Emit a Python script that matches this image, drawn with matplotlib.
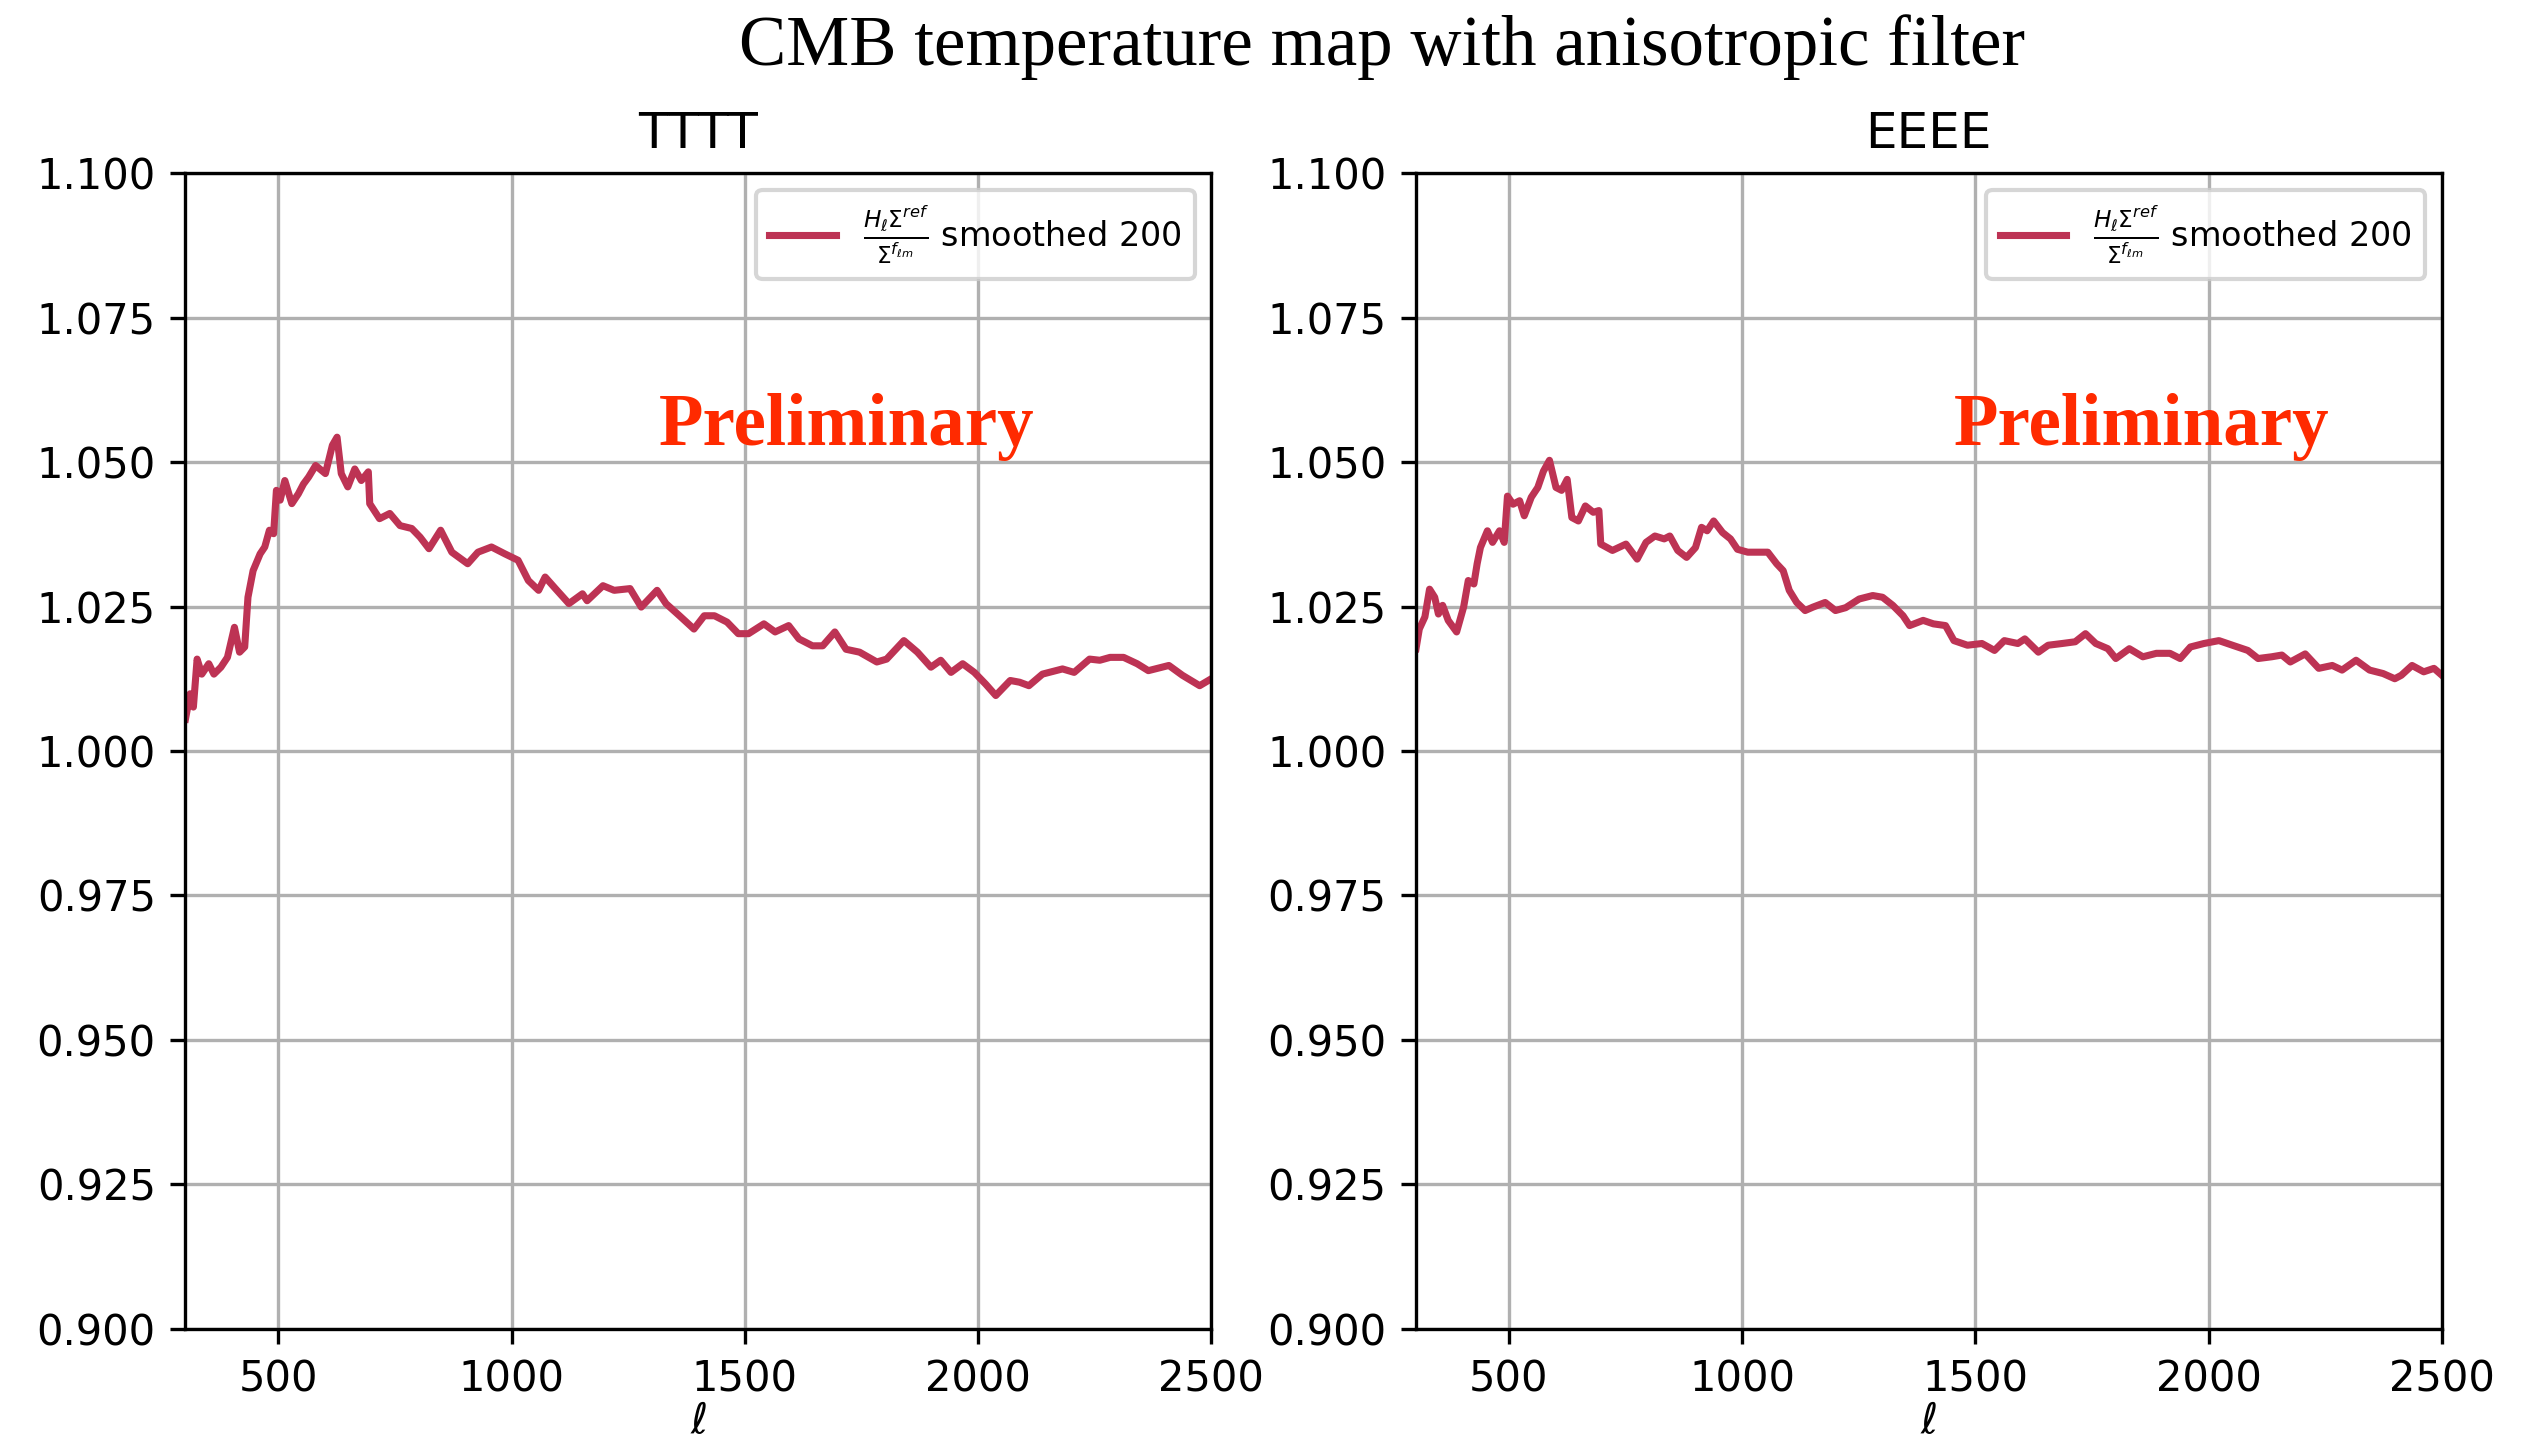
import numpy as np
import matplotlib
matplotlib.use("Agg")
import matplotlib.pyplot as plt

plt.rcParams.update({"figure.dpi": 300, "savefig.dpi": 300, "font.size": 10})

LINE_COLOR = "#bd3354"

# TTTT ratio (smoothed)
tt_ell = [301, 311, 318, 326, 336, 351, 362, 377, 391, 406, 417, 428, 435, 446, 461, 471,
          481, 490, 496, 504, 514, 529, 543, 554, 565, 580, 601, 616, 626, 635, 649, 664,
          678, 693, 696, 717, 739, 761, 786, 804, 823, 848, 872, 906, 928, 957, 986, 1014,
          1036, 1058, 1072, 1094, 1123, 1152, 1162, 1196, 1220, 1254, 1278, 1312, 1331, 1360,
          1391, 1413, 1435, 1462, 1486, 1508, 1541, 1565, 1594, 1616, 1645, 1667, 1693, 1717,
          1746, 1783, 1804, 1841, 1870, 1899, 1920, 1942, 1967, 1992, 2016, 2038, 2069, 2089,
          2109, 2138, 2181, 2206, 2239, 2261, 2283, 2312, 2341, 2365, 2409, 2438, 2475, 2500]
tt_val = [1.0055, 1.0099, 1.0076, 1.0159, 1.0133, 1.0151, 1.0133, 1.0145, 1.0162, 1.0214,
          1.0171, 1.0180, 1.0266, 1.0312, 1.0341, 1.0353, 1.0382, 1.0376, 1.0451, 1.0434,
          1.0468, 1.0428, 1.0445, 1.0462, 1.0474, 1.0494, 1.0480, 1.0529, 1.0543, 1.0480,
          1.0457, 1.0488, 1.0468, 1.0483, 1.0428, 1.0402, 1.0411, 1.0390, 1.0385, 1.0370,
          1.0350, 1.0382, 1.0344, 1.0324, 1.0344, 1.0353, 1.0341, 1.0330, 1.0295, 1.0278,
          1.0301, 1.0281, 1.0255, 1.0272, 1.0260, 1.0286, 1.0278, 1.0281, 1.0249, 1.0278,
          1.0255, 1.0234, 1.0211, 1.0234, 1.0234, 1.0223, 1.0203, 1.0203, 1.0220, 1.0206,
          1.0217, 1.0194, 1.0182, 1.0182, 1.0206, 1.0176, 1.0171, 1.0154, 1.0159, 1.0191,
          1.0171, 1.0145, 1.0157, 1.0136, 1.0151, 1.0136, 1.0116, 1.0096, 1.0122, 1.0119,
          1.0113, 1.0133, 1.0142, 1.0136, 1.0159, 1.0157, 1.0162, 1.0162, 1.0151, 1.0139,
          1.0148, 1.0131, 1.0113, 1.0125]

# EEEE ratio (smoothed)
ee_ell = [301, 308, 320, 330, 341, 349, 358, 370, 388, 403, 413, 425, 432, 439, 454, 465,
          480, 490, 497, 509, 523, 533, 548, 562, 574, 587, 601, 613, 625, 635, 649, 664,
          681, 693, 697, 722, 751, 775, 794, 813, 833, 845, 862, 881, 900, 913, 925, 939,
          958, 975, 990, 1012, 1033, 1055, 1074, 1088, 1101, 1117, 1135, 1152, 1178, 1200,
          1222, 1251, 1280, 1301, 1323, 1345, 1359, 1388, 1410, 1436, 1454, 1483, 1514, 1541,
          1562, 1591, 1606, 1635, 1656, 1686, 1714, 1736, 1758, 1784, 1801, 1830, 1859, 1888,
          1917, 1939, 1961, 1990, 2022, 2051, 2084, 2106, 2135, 2157, 2175, 2207, 2236, 2265,
          2286, 2316, 2345, 2374, 2399, 2413, 2436, 2461, 2483, 2500]
ee_val = [1.0177, 1.0211, 1.0232, 1.0280, 1.0266, 1.0237, 1.0252, 1.0226, 1.0206, 1.0249,
          1.0295, 1.0289, 1.0324, 1.0352, 1.0381, 1.0361, 1.0381, 1.0361, 1.0441, 1.0427,
          1.0433, 1.0407, 1.0439, 1.0456, 1.0484, 1.0503, 1.0456, 1.0451, 1.0470, 1.0404,
          1.0398, 1.0424, 1.0413, 1.0416, 1.0358, 1.0347, 1.0358, 1.0332, 1.0361, 1.0372,
          1.0367, 1.0372, 1.0347, 1.0335, 1.0352, 1.0387, 1.0381, 1.0398, 1.0378, 1.0367,
          1.0349, 1.0344, 1.0344, 1.0344, 1.0324, 1.0312, 1.0278, 1.0257, 1.0243, 1.0249,
          1.0257, 1.0243, 1.0248, 1.0263, 1.0269, 1.0266, 1.0252, 1.0234, 1.0217, 1.0226,
          1.0220, 1.0217, 1.0191, 1.0183, 1.0186, 1.0174, 1.0191, 1.0186, 1.0194, 1.0171,
          1.0183, 1.0186, 1.0189, 1.0203, 1.0186, 1.0177, 1.0160, 1.0177, 1.0163, 1.0169,
          1.0169, 1.0160, 1.0180, 1.0186, 1.0191, 1.0183, 1.0174, 1.0160, 1.0163, 1.0166,
          1.0154, 1.0168, 1.0143, 1.0148, 1.0140, 1.0157, 1.0140, 1.0134, 1.0125, 1.0131,
          1.0148, 1.0137, 1.0143, 1.0131]

panels = [("TTTT", tt_ell, tt_val, 0.645), ("EEEE", ee_ell, ee_val, 0.707)]
label = r"$\frac{H_\ell\Sigma^{ref}}{\Sigma^{f_{\ell m}}}$ smoothed 200"

fig, axes = plt.subplots(1, 2, figsize=(2541 / 300, 1447 / 300))
fig.subplots_adjust(left=0.0728, right=0.961, bottom=0.0816, top=0.8804, wspace=0.199)

for ax, (name, ell, val, px) in zip(axes, panels):
    ax.plot(ell, val, color=LINE_COLOR, linewidth=1.7, label=label)
    ax.set_xlim(300, 2500)
    ax.set_ylim(0.9, 1.1)
    ax.set_xticks([500, 1000, 1500, 2000, 2500])
    ax.set_title(name)
    ax.set_xlabel(r"$\ell$", labelpad=0)
    ax.grid(True)
    ax.legend(loc="upper right", fontsize=8)
    ax.text(px, 0.78, "Preliminary", transform=ax.transAxes, ha="center", va="center",
            color="#ff2a00", fontsize=17.5, fontweight="bold", family="Liberation Serif")

fig.suptitle("CMB temperature map with anisotropic filter", x=0.544, y=0.99,
             fontsize=17, family="Liberation Serif")

fig.savefig("out.png", dpi=300)
